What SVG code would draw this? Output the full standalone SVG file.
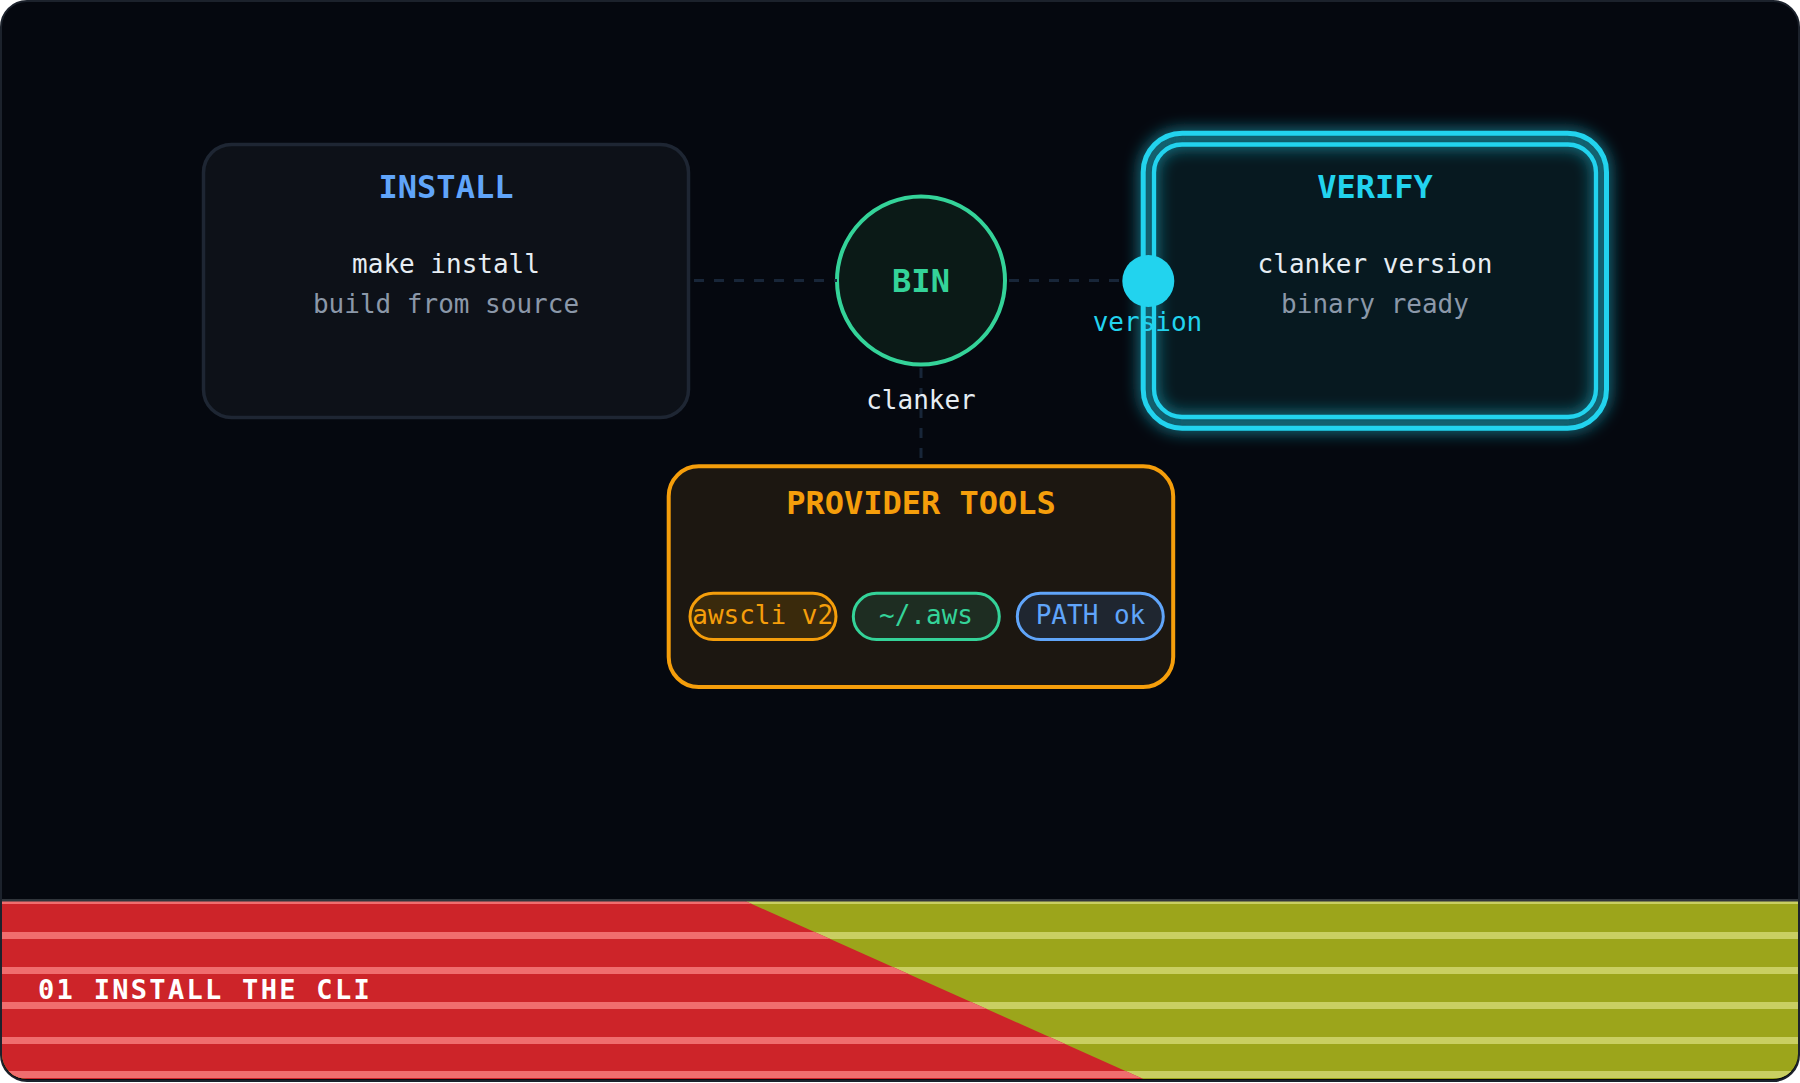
<svg xmlns="http://www.w3.org/2000/svg" width="1800" height="1083" viewBox="0 0 1800 1083">
  <defs>
    <style>
      .mono{font-family:"DejaVu Sans Mono","Liberation Mono",monospace}
      .title{font-size:32px;font-weight:bold;text-anchor:middle}
      .body{font-size:26px;text-anchor:middle;fill:#e6edf3}
      .sub{font-size:26px;text-anchor:middle;fill:#8b98a9}
      .conn{stroke:#182639;stroke-width:3;stroke-dasharray:10 10;fill:none}
      .pill{stroke-width:3}
      .pilltext{font-size:26px;text-anchor:middle}
      .stripe-r{fill:#f06d6e}
      .stripe-o{fill:#c9cf62}
    </style>
    <clipPath id="frame">
      <rect x="2" y="2" width="1796" height="1077" rx="25"/>
    </clipPath>
    <clipPath id="redside">
      <polygon points="0,899 740.7,899 1152.2,1083 0,1083"/>
    </clipPath>
    <filter id="glow" x="-15%" y="-20%" width="130%" height="140%">
      <feGaussianBlur in="SourceGraphic" stdDeviation="8" result="b"/>
      <feMerge>
        <feMergeNode in="b"/>
        <feMergeNode in="SourceGraphic"/>
      </feMerge>
    </filter>
  </defs>

  <!-- background frame -->
  <rect x="1" y="1" width="1798" height="1080" rx="26" fill="#05080f" stroke="#1c222c" stroke-width="2"/>

  <!-- footer band -->
  <g id="footer" clip-path="url(#frame)">
    <rect x="0" y="899" width="1800" height="184" fill="#9ca51b"/>
    <g class="stripe-o">
      <rect x="0" y="899" width="1800" height="5"/>
      <rect x="0" y="932" width="1800" height="7"/>
      <rect x="0" y="967" width="1800" height="7"/>
      <rect x="0" y="1002" width="1800" height="7"/>
      <rect x="0" y="1037" width="1800" height="7"/>
      <rect x="0" y="1071" width="1800" height="7"/>
    </g>
    <g clip-path="url(#redside)">
      <rect x="0" y="899" width="1800" height="184" fill="#cd2429"/>
      <g class="stripe-r">
        <rect x="0" y="899" width="1800" height="5"/>
        <rect x="0" y="932" width="1800" height="7"/>
        <rect x="0" y="967" width="1800" height="7"/>
        <rect x="0" y="1002" width="1800" height="7"/>
        <rect x="0" y="1037" width="1800" height="7"/>
        <rect x="0" y="1071" width="1800" height="7"/>
      </g>
    </g>
    <line x1="0" y1="900.3" x2="1800" y2="900.3" stroke="#30353b" stroke-width="2.6"/>
    <text class="mono" x="38" y="999" font-size="27" font-weight="bold" letter-spacing="2.3" fill="#ffffff">01 INSTALL THE CLI</text>
  </g>

  <!-- INSTALL node -->
  <g id="node-install">
    <rect x="203.5" y="144.5" width="485" height="273" rx="28" fill="#0d1118" stroke="#1e2633" stroke-width="3.5"/>
    <text class="mono title" x="446" y="198" fill="#60a5fa">INSTALL</text>
    <text class="mono body" x="446" y="273">make install</text>
    <text class="mono sub" x="446" y="313">build from source</text>
  </g>

  <!-- BIN node -->
  <g id="node-bin">
    <circle cx="921" cy="280.5" r="84" fill="#0b1a17" stroke="#34d399" stroke-width="4"/>
    <text class="mono title" x="921" y="292" fill="#34d399">BIN</text>
  </g>

  <!-- PROVIDER TOOLS node -->
  <g id="node-provider">
    <rect x="668.7" y="466.3" width="504.5" height="220.7" rx="30" fill="#1c1711" stroke="#f59e0b" stroke-width="4"/>
    <text class="mono title" x="921" y="514" fill="#f59e0b">PROVIDER TOOLS</text>
    <g id="pill-awscli">
      <rect class="pill" x="690" y="593.3" width="146" height="46.2" rx="23.1" fill="#3a2a0c" stroke="#f59e0b"/>
      <text class="mono pilltext" x="762.7" y="624" fill="#f59e0b">awscli v2</text>
    </g>
    <g id="pill-aws">
      <rect class="pill" x="853.3" y="593.3" width="146" height="46.2" rx="23.1" fill="#1e2d22" stroke="#34d399"/>
      <text class="mono pilltext" x="926" y="624" fill="#34d399">~/.aws</text>
    </g>
    <g id="pill-path">
      <rect class="pill" x="1017.3" y="593.3" width="146" height="46.2" rx="23.1" fill="#1f2630" stroke="#60a5fa"/>
      <text class="mono pilltext" x="1090.5" y="624" fill="#60a5fa">PATH ok</text>
    </g>
  </g>

  <!-- VERIFY node -->
  <g id="node-verify">
    <rect x="1143.2" y="133.2" width="463.3" height="295" rx="39" fill="#071920"/>
    <g filter="url(#glow)" fill="none" stroke="#22d3ee">
      <rect x="1143.2" y="133.2" width="463.3" height="295" rx="39" stroke-width="5"/>
      <rect x="1154" y="144.5" width="442" height="272.5" rx="28" stroke-width="4.3"/>
    </g>
    <text class="mono title" x="1375" y="198" fill="#22d3ee">VERIFY</text>
    <text class="mono body" x="1375" y="273">clanker version</text>
    <text class="mono sub" x="1375" y="313">binary ready</text>
  </g>

  <!-- connectors -->
  <g id="connectors">
    <line class="conn" x1="694" y1="280.5" x2="837" y2="280.5"/>
    <line class="conn" x1="1009" y1="280.5" x2="1148" y2="280.5"/>
    <line class="conn" x1="921" y1="368" x2="921" y2="466"/>
    <circle cx="1148.3" cy="281" r="26" fill="#22d3ee"/>
    <text class="mono" x="1147.5" y="331" font-size="26" text-anchor="middle" fill="#22d3ee">version</text>
    <text class="mono" x="921" y="409" font-size="26" text-anchor="middle" fill="#e6edf3">clanker</text>
  </g>
</svg>
